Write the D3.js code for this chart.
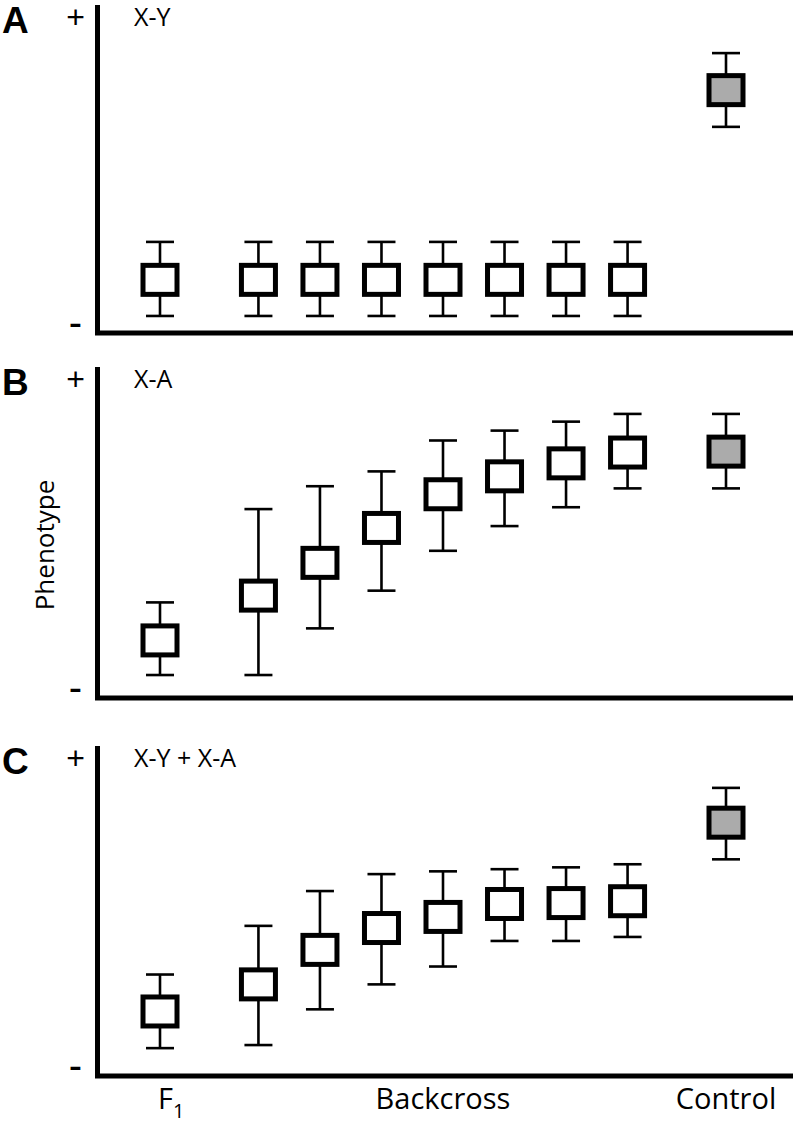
<!DOCTYPE html>
<html>
<head>
<meta charset="utf-8">
<script src="https://cdn.jsdelivr.net/npm/d3@7"></script>
<style>
  html, body { margin: 0; padding: 0; background: #fff; }
  svg { display: block; }
</style>
</head>
<body>
<svg id="chart" width="796" height="1124"></svg>
<script>
// ---- data ----
const groups = ["F1", "BC1", "BC2", "BC3", "BC4", "BC5", "BC6", "BC7", "Control"];
const controlFlag = [false, false, false, false, false, false, false, false, true];

const panelLetters = ["A", "B", "C"];
const panelTitles = ["X-Y", "X-A", "X-Y + X-A"];

// phenotype (arbitrary units: 0 = "-", 100 = "+")
const meanA = [14.1, 14.1, 14.1, 14.1, 14.1, 14.1, 14.1, 14.1, 76.1];
const upperA = [26.5, 26.5, 26.5, 26.5, 26.5, 26.5, 26.5, 26.5, 88.2];
const lowerA = [2.3, 2.3, 2.3, 2.3, 2.3, 2.3, 2.3, 2.3, 64.1];

const meanB = [15.4, 29.9, 40.5, 51.8, 62.7, 68.5, 72.7, 76.2, 76.5];
const upperB = [27.7, 57.9, 65.3, 70.1, 80.1, 83.3, 86.2, 88.7, 88.7];
const lowerB = [4.2, 4.2, 19.3, 31.5, 44.4, 52.4, 58.5, 64.6, 64.6];

const meanC = [17.7, 26.5, 37.7, 44.8, 48.4, 52.6, 52.9, 53.5, 79.0];
const upperC = [29.7, 45.5, 56.8, 62.3, 63.2, 63.9, 64.5, 65.5, 90.3];
const lowerC = [5.8, 6.8, 18.4, 26.5, 32.3, 40.6, 40.6, 41.9, 67.1];

const yTickValues = [0, 100];
const yTickLabels = ["-", "+"];

const xAxisLabels = ["F", "Backcross", "Control"]; // F gets subscript 1
const xAxisLabelGroups = ["F1", "BC4", "Control"];
const yAxisTitle = "Phenotype";

// ---- layout ----
const svg = d3.select("#chart");
svg.append("rect").attr("width", 796).attr("height", 1124).attr("fill", "#fff");

const axisX = 97.5;
const axisRight = 793;
const panels = [
  { top: 5, bottom: 333 },
  { top: 367, bottom: 698 },
  { top: 746, bottom: 1076 }
];
const means = [meanA, meanB, meanC];
const uppers = [upperA, upperB, upperC];
const lowers = [lowerA, lowerB, lowerC];

// slot positions: gap after F1 and before Control
const slot = i => i + (i > 0 ? 0.6 : 0) + (i === groups.length - 1 ? 0.6 : 0);
const x = d3.scaleLinear().domain([slot(0), slot(groups.length - 1)]).range([160, 726]);

const FONT = "'Open Sans', 'Liberation Sans', sans-serif";

panels.forEach((p, pi) => {
  const g = svg.append("g");
  const y = d3.scaleLinear().domain([0, 100]).range([p.bottom - 10, p.top + 12]);

  // axes L-shape
  g.append("path")
    .attr("d", `M${axisX},${p.top} L${axisX},${p.bottom} L${axisRight},${p.bottom}`)
    .attr("fill", "none").attr("stroke", "#000").attr("stroke-width", 5)
    .attr("stroke-linejoin", "miter").attr("stroke-linecap", "butt");

  // y ticks via axis
  const ax = d3.axisLeft(y).tickValues(yTickValues).tickSize(0)
    .tickFormat((d, i) => yTickLabels[i]);
  const axg = g.append("g").attr("transform", `translate(${axisX},0)`).call(ax);
  axg.select(".domain").remove();
  axg.selectAll("text")
    .attr("x", -22).attr("text-anchor", "middle")
    .attr("font-family", "'Liberation Sans', Arial, sans-serif")
    .style("font-size", (d, i) => i === 0 ? "40px" : "32px").attr("fill", "#000");

  // panel letter
  g.append("text").attr("x", 2).attr("y", p.top + 28)
    .attr("font-family", "'Liberation Sans', Arial, sans-serif")
    .attr("font-weight", "bold").attr("font-size", 37).text(panelLetters[pi]);

  // panel title
  g.append("text").attr("x", 134).attr("y", p.top + 21)
    .attr("font-family", FONT).attr("font-size", 25).text(panelTitles[pi]);

  // error bars + boxes
  const data = groups.map((gname, i) => ({
    i, name: gname, m: means[pi][i], hi: uppers[pi][i], lo: lowers[pi][i], ctrl: controlFlag[i]
  }));
  const item = g.selectAll(".item").data(data).join("g").attr("class", "item");
  item.append("line")
    .attr("x1", d => x(slot(d.i))).attr("x2", d => x(slot(d.i)))
    .attr("y1", d => y(d.hi)).attr("y2", d => y(d.lo))
    .attr("stroke", "#000").attr("stroke-width", 2.6);
  item.append("line")
    .attr("x1", d => x(slot(d.i)) - 14).attr("x2", d => x(slot(d.i)) + 14)
    .attr("y1", d => y(d.hi)).attr("y2", d => y(d.hi))
    .attr("stroke", "#000").attr("stroke-width", 2.6);
  item.append("line")
    .attr("x1", d => x(slot(d.i)) - 14).attr("x2", d => x(slot(d.i)) + 14)
    .attr("y1", d => y(d.lo)).attr("y2", d => y(d.lo))
    .attr("stroke", "#000").attr("stroke-width", 2.6);
  item.append("rect")
    .attr("x", d => x(slot(d.i)) - 17).attr("y", d => y(d.m) - 14.5)
    .attr("width", 34).attr("height", 29)
    .attr("fill", d => d.ctrl ? "#ababab" : "#fff")
    .attr("stroke", "#000").attr("stroke-width", 5);
});

// x-axis category labels (bottom panel)
const xl = svg.append("g");
xAxisLabels.forEach((lab, k) => {
  const gi = groups.indexOf(xAxisLabelGroups[k]);
  const cx = x(slot(gi));
  const t = xl.append("text").attr("y", 1109)
    .attr("font-family", FONT).attr("font-size", 29);
  if (k === 0) {
    t.attr("x", cx - 2).attr("text-anchor", "start");
    t.append("tspan").text(lab);
    t.append("tspan").attr("font-size", 20).attr("dy", 9).text("1");
  } else {
    t.attr("x", cx).attr("text-anchor", "middle").text(lab);
  }
});

// y-axis title
svg.append("text")
  .attr("transform", `translate(54,545) rotate(-90)`)
  .attr("text-anchor", "middle")
  .attr("font-family", FONT).attr("font-size", 26).text(yAxisTitle);
</script>
</body>
</html>
